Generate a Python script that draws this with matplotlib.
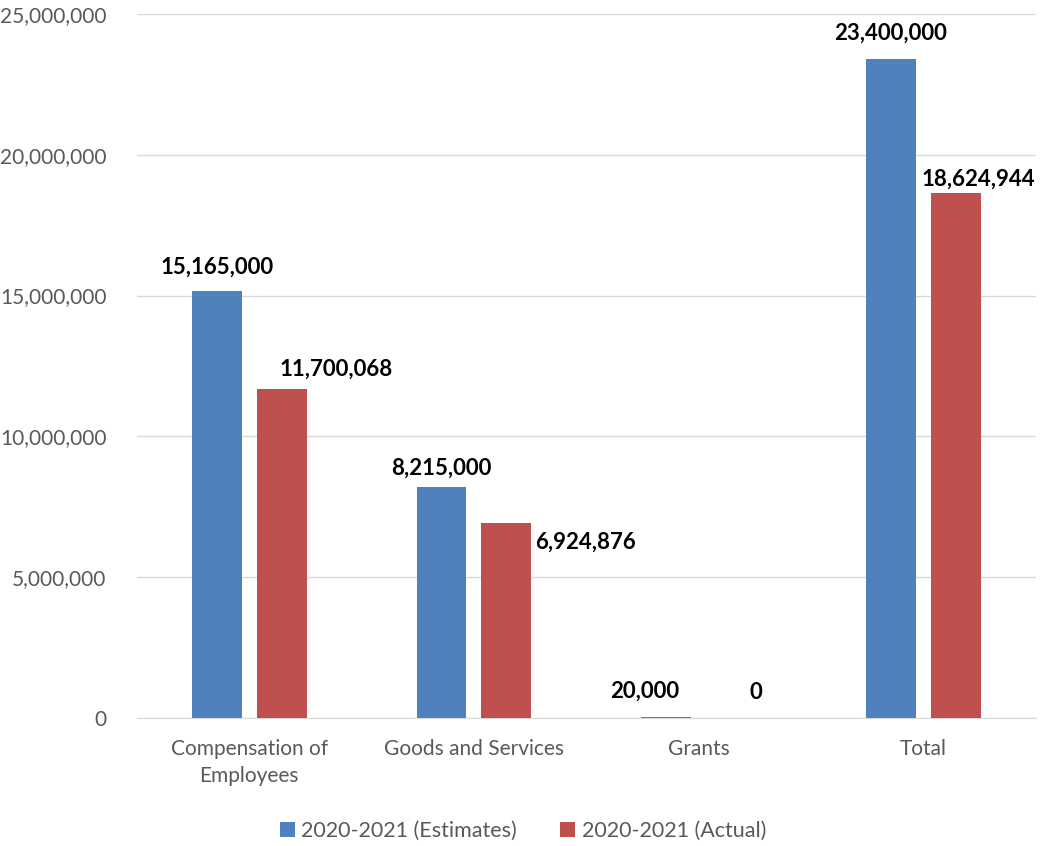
import matplotlib.pyplot as plt
import numpy as np
from matplotlib.ticker import FuncFormatter

plt.rcParams['font.family'] = ['Lato', 'DejaVu Sans']

# datos
categorias = ['Compensation of\nEmployees', 'Goods and Services', 'Grants', 'Total']
estimados = [15165000, 8215000, 20000, 23400000]
actuales = [11700068, 6924876, 0, 18624944]
series = ['2020-2021 (Estimates)', '2020-2021 (Actual)']

# desplazamiento de etiquetas (pixeles) para imitar la colocacion original
off_est = [(0, 24), (0, 18), (-21, 26), (0, 26)]
off_act = [(54, 19), (79, -19), (25, 26), (23, 14)]

azul = '#4F81BD'
rojo = '#C0504D'

fig = plt.figure(figsize=(10.46, 8.46), dpi=100)
ax = fig.add_axes([0.131, 0.1513, 0.859, 0.8322])

x = np.arange(len(categorias))
w = 0.222
sep = 0.067
b1 = ax.bar(x - (w + sep) / 2, estimados, w, color=azul, label=series[0], zorder=3)
b2 = ax.bar(x + (w + sep) / 2, actuales, w, color=rojo, label=series[1], zorder=3)

for barras, vals, offs in [(b1, estimados, off_est), (b2, actuales, off_act)]:
    for b, v, (dx, dy) in zip(barras, vals, offs):
        ax.annotate(f'{v:,}', (b.get_x() + b.get_width() / 2, v),
                    xytext=(dx * 0.72, dy * 0.72), textcoords='offset points',
                    ha='center', va='center', fontsize=16, fontweight='bold',
                    color='black')

ax.set_xlim(-0.5, 3.5)
ax.set_ylim(0, 25000000)
ax.set_yticks(np.arange(0, 25000001, 5000000))
ax.yaxis.set_major_formatter(FuncFormatter(lambda v, p: f'{int(v):,}'))
ax.set_xticks(x)
ax.set_xticklabels(categorias, linespacing=1.45, fontsize=15.5)
ax.tick_params(axis='both', length=0, labelsize=15, labelcolor='#595959')
ax.tick_params(axis='y', pad=22)
ax.tick_params(axis='x', pad=15)
ax.grid(axis='y', color='#D9D9D9', linewidth=1, zorder=0)
for s in ['top', 'right', 'left']:
    ax.spines[s].set_visible(False)
ax.spines['bottom'].set_color('#D9D9D9')

fig.legend(loc='center', bbox_to_anchor=(0.5, 0.018), ncol=2, frameon=False,
           fontsize=15.5, labelcolor='#595959', handlelength=0.7, handleheight=0.7,
           handletextpad=0.3, columnspacing=2.0)

plt.savefig('out.png', dpi=100)
